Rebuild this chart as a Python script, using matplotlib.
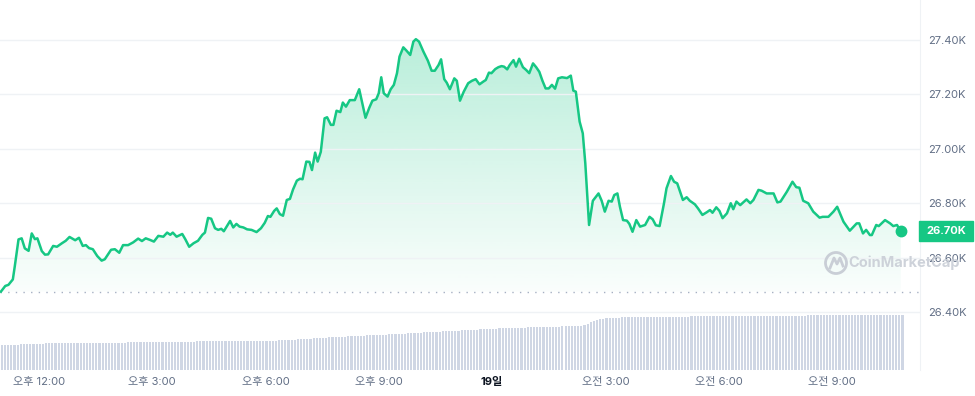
import matplotlib
matplotlib.use("Agg")
import matplotlib.pyplot as plt
import matplotlib.transforms as mtransforms
from matplotlib.patches import Rectangle, Circle
import numpy as np

plt.rcParams['font.family'] = ['Inter', 'Noto Sans CJK KR', 'DejaVu Sans']

# price trace, minutes since 11:00 (18th) and USD
minutes = [0, 7, 12, 19, 22, 28, 33, 38, 44, 49, 54, 58, 65, 70, 75, 83, 89, 97, 103, 109,
           118, 124, 130, 135, 140, 146, 153, 160, 165, 175, 181, 188, 194, 202, 210, 218, 224, 230, 237, 243,
           250, 258, 264, 269, 273, 279, 288, 293, 299, 306, 313, 320, 324, 329, 334, 340, 345, 350, 354, 364,
           369, 374, 379, 385, 391, 398, 406, 413, 419, 424, 428, 434, 438, 443, 448, 454, 459, 464, 470, 475,
           479, 485, 490, 494, 499, 503, 508, 514, 518, 524, 528, 533, 539, 543, 548, 554, 562, 569, 575, 579,
           585, 590, 596, 600, 604, 608, 614, 619, 624, 629, 633, 639, 644, 650, 655, 659, 664, 671, 678, 684,
           689, 695, 699, 704, 708, 713, 720, 724, 729, 735, 742, 748, 754, 760, 766, 770, 775, 779, 785, 790,
           795, 799, 804, 808, 814, 818, 823, 829, 834, 839, 845, 850, 855, 860, 865, 870, 875, 880, 885, 891,
           899, 905, 909, 913, 919, 924, 928, 934, 940, 949, 954, 959, 965, 970, 974, 979, 983, 988, 994, 998,
           1003, 1009, 1015, 1023, 1030, 1035, 1040, 1046, 1053, 1057, 1064, 1069, 1074, 1083, 1089, 1094, 1102, 1107, 1114, 1121,
           1126, 1130, 1136, 1141, 1146, 1153, 1159, 1163, 1168, 1174, 1184, 1190, 1195, 1203, 1208, 1216, 1227, 1233, 1238, 1248,
           1257, 1263, 1268, 1274, 1282, 1290, 1300, 1305, 1314, 1322, 1328, 1338, 1348, 1359, 1363, 1369, 1374, 1380, 1383, 1390,
           1394, 1404, 1412, 1417, 1423, 1429]
prices = [26475, 26496, 26500, 26520, 26567, 26667, 26671, 26634, 26625, 26689, 26668, 26671, 26624, 26611, 26612, 26643, 26640, 26653, 26662, 26676,
          26664, 26673, 26643, 26646, 26635, 26631, 26606, 26589, 26594, 26629, 26631, 26618, 26646, 26646, 26656, 26670, 26661, 26671, 26665, 26659,
          26680, 26677, 26692, 26684, 26692, 26677, 26687, 26667, 26640, 26653, 26662, 26684, 26692, 26746, 26743, 26708, 26702, 26706, 26697, 26735,
          26711, 26724, 26714, 26711, 26704, 26702, 26694, 26708, 26728, 26753, 26750, 26772, 26781, 26760, 26754, 26812, 26816, 26851, 26883, 26890,
          26888, 26953, 26952, 26922, 26986, 26953, 26989, 27112, 27116, 27088, 27088, 27140, 27135, 27170, 27155, 27179, 27179, 27219, 27155, 27114,
          27151, 27177, 27182, 27204, 27263, 27204, 27192, 27219, 27235, 27278, 27339, 27373, 27361, 27345, 27394, 27403, 27394, 27357, 27324, 27287,
          27287, 27308, 27329, 27256, 27243, 27219, 27259, 27250, 27177, 27210, 27241, 27250, 27256, 27237, 27247, 27253, 27280, 27278, 27293, 27300,
          27304, 27302, 27292, 27308, 27326, 27302, 27331, 27300, 27290, 27278, 27314, 27300, 27283, 27250, 27222, 27222, 27235, 27221, 27259, 27263,
          27260, 27269, 27214, 27210, 27100, 27057, 26947, 26720, 26809, 26836, 26809, 26769, 26809, 26806, 26830, 26836, 26787, 26738, 26736, 26724,
          26695, 26738, 26714, 26720, 26750, 26741, 26719, 26716, 26800, 26855, 26900, 26879, 26873, 26812, 26822, 26809, 26796, 26781, 26757, 26767,
          26775, 26765, 26785, 26772, 26745, 26763, 26800, 26778, 26806, 26793, 26814, 26800, 26812, 26849, 26846, 26836, 26836, 26803, 26806, 26842,
          26879, 26859, 26857, 26809, 26800, 26769, 26747, 26750, 26750, 26769, 26787, 26732, 26699, 26726, 26726, 26689, 26702, 26683, 26683, 26720,
          26716, 26738, 26726, 26716, 26720, 26697]

# volume bars, one per 5 minutes from 11:00 (relative units)
volume = [
    25, 25, 25, 25, 25, 25, 26, 26, 26, 26, 26, 26,
    26, 26, 27, 27, 27, 27, 27, 27, 27, 27, 27, 27,
    27, 27, 27, 27, 27, 27, 27.5, 27.5, 27.5, 27.5, 27.5, 27.5,
    27.5, 27.5, 27.5, 27.5, 28, 28, 28, 28, 28, 28, 28, 28,
    28, 28, 28.5, 28.5, 28.5, 28.5, 28.5, 28.5, 28.5, 28.5, 28.5, 28.5,
    28.5, 28.5, 29, 29, 29, 29, 29, 29, 29, 29, 29, 29,
    29, 29, 29, 29, 29, 29, 29.5, 29.5, 29.5, 29.5, 29.5, 29.5,
    29.5, 29.5, 29.5, 29.5, 30, 30, 30, 30, 30.5, 30.5, 31, 31,
    31, 31.5, 31.5, 32, 32, 32, 32.5, 32.5, 33, 33, 33, 33.5,
    33.5, 33.5, 34, 34, 34, 34.5, 34.5, 34.5, 35, 35, 35, 35,
    35.5, 35.5, 35.5, 36, 36, 36, 36.5, 36.5, 36.5, 37, 37, 37,
    37.5, 37.5, 38, 38, 38, 38.5, 38.5, 38.5, 39, 39, 39, 39,
    39.5, 39.5, 40, 40, 40, 40, 40.5, 40.5, 41, 41, 41, 41,
    41.5, 41.5, 42, 42, 42, 42, 42, 42.5, 42.5, 42.5, 42.5, 43,
    43, 43, 43, 43, 43, 43.5, 43.5, 43.5, 43.5, 43.5, 44, 44,
    44, 44, 44, 44, 44.5, 45, 46, 48, 49, 50, 51, 51.5,
    52, 52, 52.5, 52.5, 52.5, 53, 53, 53, 53, 53, 53, 53.5,
    53.5, 53.5, 53.5, 53.5, 53.5, 53.5, 53.5, 53.5, 53.5, 53.5, 53.5, 53.5,
    53.5, 53.5, 53.5, 54, 54, 54, 54, 54, 54, 54, 54, 54,
    54, 54, 54.5, 54.5, 54.5, 54.5, 54.5, 54.5, 54.5, 54.5, 54.5, 54.5,
    54.5, 54.5, 54.5, 54.5, 54.5, 54.5, 54.5, 54.5, 54.5, 54.5, 54.5, 54.5,
    54.5, 54.5, 54.5, 54.5, 55, 55, 55, 55, 55, 55, 55, 55,
    55, 55, 55, 55, 55, 55, 55, 55, 55, 55, 55, 55,
    55, 55, 55, 55, 55, 55, 55, 55, 55, 55, 55,
]
vol_minutes = [5 * i for i in range(len(volume))]

tick_minutes = [60, 240, 420, 600, 780, 960, 1140, 1320]
tick_labels = ['오후 12:00', '오후 3:00', '오후 6:00', '오후 9:00', '19일', '오전 3:00', '오전 6:00', '오전 9:00']
price_ticks = [26400, 26600, 26800, 27000, 27200, 27400]

green = '#16c784'
label_grey = '#616e85'

fig = plt.figure(figsize=(9.75, 3.96), dpi=100)
rect = [0, 26 / 396, 920 / 975, 370 / 396]

# volume underneath
axv = fig.add_axes(rect, zorder=0)
axv.bar(vol_minutes, volume, width=3.4, align='edge', color='#cfd6e4', linewidth=0)
axv.set_ylim(0, 370)
axv.set_xlim(-1.4, 1459.5)
axv.axis('off')

ax = fig.add_axes(rect, zorder=1)
ax.patch.set_alpha(0)
ax.set_xlim(-1.4, 1459.5)
ax.set_ylim(26187, 27547)

# gradient fill under the line
base = prices[0]
poly = ax.fill_between(minutes, prices, base, color='none', lw=0)
n = 256
grad = np.zeros((n, 1, 4))
grad[:, 0, :3] = matplotlib.colors.to_rgb(green)
grad[:, 0, 3] = np.linspace(0.30, 0.02, n)
im = ax.imshow(grad, aspect='auto', origin='upper',
               extent=[minutes[0], minutes[-1], base, max(prices)], zorder=1)
im.set_clip_path(poly.get_paths()[0], transform=ax.transData)
ax.set_xlim(-1.4, 1459.5)
ax.set_ylim(26187, 27547)

ax.plot(minutes, prices, color=green, lw=1.8, zorder=3, solid_joinstyle='round')
ax.plot(minutes[-1], prices[-1], 'o', ms=7.5, color=green, zorder=4)
ax.axhline(base, color='#a6b0c3', lw=1, ls=(0, (1, 4.5)), zorder=2)

# axes styling
ax.set_yticks(price_ticks)
ax.set_yticklabels([f"{v / 1000:.2f}K" for v in price_ticks])
ax.yaxis.tick_right()
ax.set_xticks(tick_minutes)
ax.set_xticklabels(tick_labels)
ax.tick_params(length=0, labelsize=8, colors=label_grey)
ax.tick_params(axis='y', pad=6)
ax.tick_params(axis='x', pad=5)
for lab in ax.get_xticklabels():
    if lab.get_text() == '19일':
        lab.set_color('#0d1421')
        lab.set_fontweight('bold')
ax.grid(axis='y', color='#eff2f5', lw=1)
for s in ['top', 'left', 'bottom']:
    ax.spines[s].set_visible(False)
ax.spines['right'].set_color('#eff2f5')

# current price tag
tr = mtransforms.blended_transform_factory(fig.transFigure, ax.transData)
tag_h = 20 * (27547 - 26187) / 370
ax.add_patch(Rectangle((919 / 975, prices[-1] - tag_h / 2), 54 / 975, tag_h, transform=tr,
                       color=green, clip_on=False, zorder=5))
ax.text(946 / 975, prices[-1], f"{prices[-1] / 1000:.2f}K", transform=tr, ha='center', va='center',
        color='white', fontsize=8, fontweight='bold', zorder=6, clip_on=False)

# watermark
wm = '#c9ced6'
fig.text(848 / 975, 1 - 263 / 396, 'CoinMarketCap', color=wm, fontsize=10.5, fontweight='bold',
         ha='left', va='center', alpha=0.9)
fig.patches.append(Circle((836 / 975 * 9.75 * 100, (396 - 263)), 10.5, transform=None,
                          fill=False, edgecolor=wm, lw=2))
fig.lines.append(plt.Line2D([830, 834, 837, 840, 843], [396 - 268, 396 - 258, 396 - 264, 396 - 258, 396 - 266],
                            transform=None, color=wm, lw=2))

fig.savefig('out.png', dpi=100)
